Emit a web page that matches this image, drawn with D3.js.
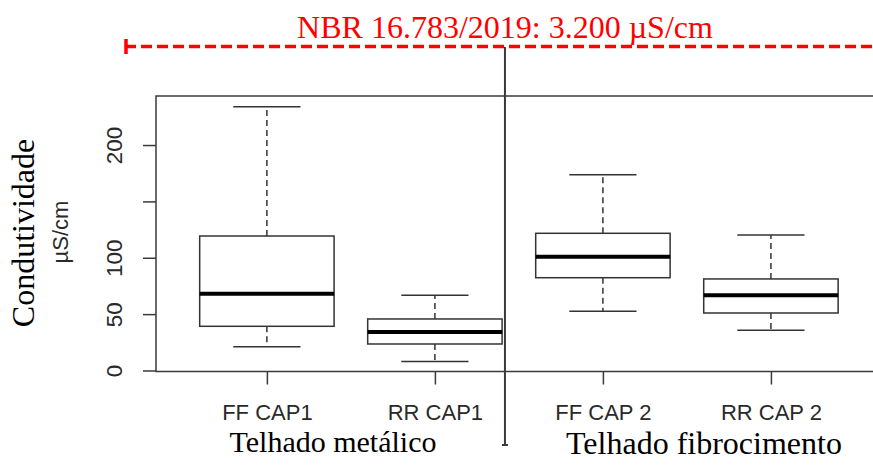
<!DOCTYPE html>
<html><head><meta charset="utf-8">
<script src="https://cdn.jsdelivr.net/npm/d3@7"></script>
<style>body{margin:0;background:#fff}svg{display:block}</style>
</head><body>
<script>
const categories = ["FF CAP1", "RR CAP1", "FF CAP 2", "RR CAP 2"];
const groups = ["Telhado metálico", "Telhado fibrocimento"];
const whiskerLow = [21, 8, 52.5, 35.7];
const q1 = [39.2, 23.5, 82.3, 51];
const median = [68.1, 34.1, 100.9, 66.7];
const q3 = [119.3, 45.7, 121.7, 81.2];
const whiskerHigh = [234, 66.7, 173.7, 120.2];
const yTicks = [0, 50, 100, 150, 200];
const yTickLabels = ["0", "50", "100", "", "200"];
const limitLabel = "NBR 16.783/2019: 3.200 µS/cm";

const W = 873, H = 469;
const svg = d3.select("body").append("svg").attr("width", W).attr("height", H);
const sans = "Liberation Sans, Arial, sans-serif";
const serif = "Liberation Serif, Times New Roman, serif";

const x = d3.scaleLinear().domain([0.34, 4.66]).range([156, 881.8]);
const y = d3.scaleLinear().domain([-0.9, 243.5]).range([371.5, 96]);
const boxW = 0.8;

// plot frame
svg.append("rect").attr("x", x(0.34)).attr("y", y(243.5))
  .attr("width", x(4.66) - x(0.34)).attr("height", y(-0.9) - y(243.5))
  .attr("fill", "none").attr("stroke", "#3a3a3a").attr("stroke-width", 1.5);

// y axis
const yAxis = d3.axisLeft(y).tickValues(yTicks).tickSize(13).tickFormat((d, i) => yTickLabels[i]).tickPadding(0);
const gy = svg.append("g").attr("transform", `translate(${x(0.34)},0)`).call(yAxis);
gy.select(".domain").remove();
gy.selectAll(".tick line").attr("stroke", "#3a3a3a").attr("stroke-width", 1.5);
gy.selectAll(".tick text")
  .attr("font-family", sans).attr("font-size", 22.5).attr("fill", "#2a2a2a")
  .attr("text-anchor", "middle").attr("x", 0).attr("dy", 0)
  .attr("transform", "translate(-34,0) rotate(-90)");

// x axis
const xAxis = d3.axisBottom(x).tickValues([1, 2, 3, 4]).tickSize(13).tickFormat((d, i) => categories[i]).tickPadding(0);
const gx = svg.append("g").attr("transform", `translate(0,${y(-0.9)})`).call(xAxis);
gx.select(".domain").remove();
gx.selectAll(".tick line").attr("stroke", "#3a3a3a").attr("stroke-width", 1.5);
gx.selectAll(".tick text")
  .attr("font-family", sans).attr("font-size", 22).attr("fill", "#2a2a2a")
  .attr("y", 48.5).attr("dy", 0);

// boxes
const data = categories.map((c, i) => ({i: i + 1, lo: whiskerLow[i], q1: q1[i], med: median[i], q3: q3[i], hi: whiskerHigh[i]}));
const g = svg.append("g");
data.forEach(d => {
  const cx = x(d.i), half = (x(boxW) - x(0)) / 2, capHalf = half / 2;
  g.append("line").attr("x1", cx).attr("x2", cx).attr("y1", y(d.q3)).attr("y2", y(d.hi))
    .attr("stroke", "#333").attr("stroke-width", 1.5).attr("stroke-dasharray", "6,4");
  g.append("line").attr("x1", cx).attr("x2", cx).attr("y1", y(d.q1)).attr("y2", y(d.lo))
    .attr("stroke", "#333").attr("stroke-width", 1.5).attr("stroke-dasharray", "6,4");
  g.append("line").attr("x1", cx - capHalf).attr("x2", cx + capHalf).attr("y1", y(d.hi)).attr("y2", y(d.hi))
    .attr("stroke", "#333").attr("stroke-width", 1.5);
  g.append("line").attr("x1", cx - capHalf).attr("x2", cx + capHalf).attr("y1", y(d.lo)).attr("y2", y(d.lo))
    .attr("stroke", "#333").attr("stroke-width", 1.5);
  g.append("rect").attr("x", cx - half).attr("y", y(d.q3)).attr("width", 2 * half).attr("height", y(d.q1) - y(d.q3))
    .attr("fill", "#fff").attr("stroke", "#333").attr("stroke-width", 1.5);
  g.append("line").attr("x1", cx - half).attr("x2", cx + half).attr("y1", y(d.med)).attr("y2", y(d.med))
    .attr("stroke", "#000").attr("stroke-width", 4);
});

// y labels
svg.append("text").attr("transform", `translate(34,233) rotate(-90)`).attr("text-anchor", "middle")
  .attr("font-family", serif).attr("font-size", 32).attr("fill", "#000")
  .text("Condutividade");
svg.append("text").attr("transform", `translate(68,232) rotate(-90)`).attr("text-anchor", "middle")
  .attr("font-family", sans).attr("font-size", 22).attr("fill", "#2a2a2a")
  .text("µS/cm");

// separator
const sepX = x(2.417);
svg.append("line").attr("x1", sepX).attr("x2", sepX).attr("y1", 47).attr("y2", 445)
  .attr("stroke", "#3a3a3a").attr("stroke-width", 2);
svg.append("line").attr("x1", sepX - 3).attr("x2", sepX + 3).attr("y1", 445).attr("y2", 445)
  .attr("stroke", "#3a3a3a").attr("stroke-width", 2);

// group labels
svg.append("text").attr("x", 333).attr("y", 452).attr("text-anchor", "middle")
  .attr("font-family", serif).attr("font-size", 30).attr("fill", "#000")
  .text(groups[0]);
svg.append("text").attr("x", 704).attr("y", 454).attr("text-anchor", "middle")
  .attr("font-family", serif).attr("font-size", 32).attr("fill", "#000")
  .text(groups[1]);

// limit line
svg.append("line").attr("x1", 125).attr("x2", W).attr("y1", 46.5).attr("y2", 46.5)
  .attr("stroke", "#f00").attr("stroke-width", 3.5).attr("stroke-dasharray", "11,5");
svg.append("line").attr("x1", 126).attr("x2", 126).attr("y1", 39).attr("y2", 54)
  .attr("stroke", "#f00").attr("stroke-width", 3.5);
svg.append("text").attr("x", 505).attr("y", 38).attr("text-anchor", "middle")
  .attr("font-family", serif).attr("font-size", 32).attr("fill", "#f00")
  .text(limitLabel);
</script>
</body></html>
